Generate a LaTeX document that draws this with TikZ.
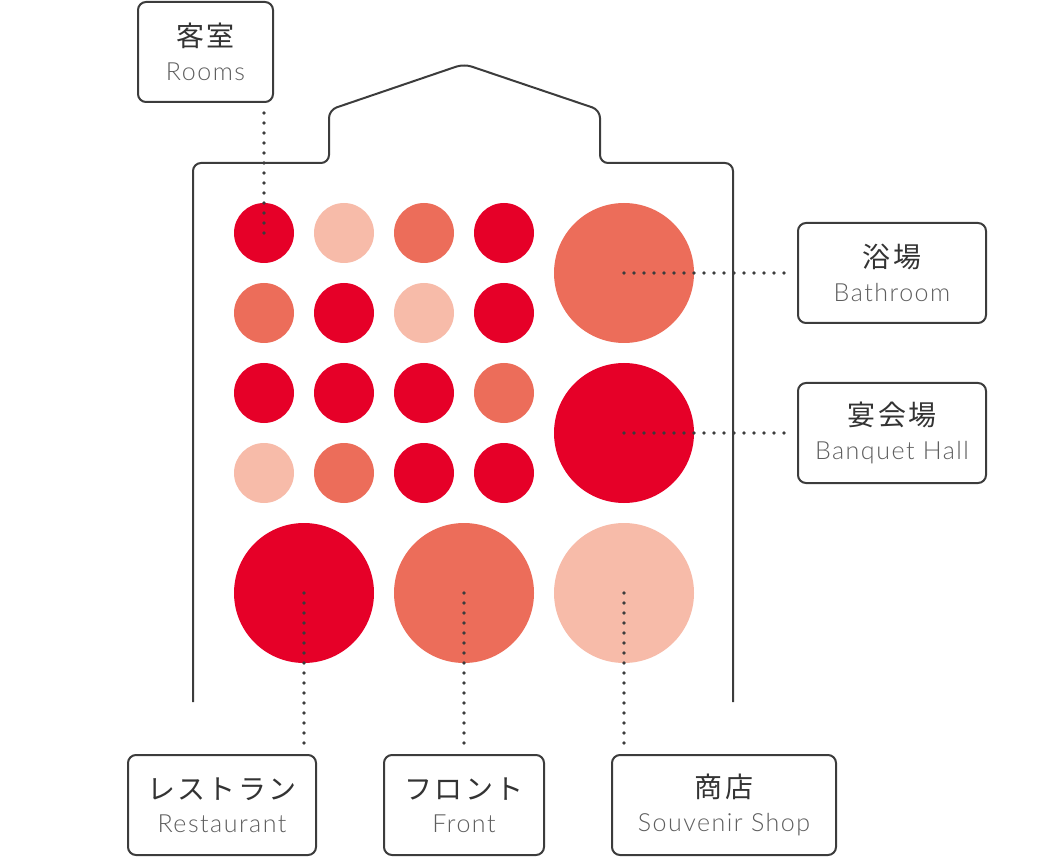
\documentclass[tikz,border=0pt]{standalone}
\usepackage{fontspec}
\setmainfont{Lato Light}[LetterSpace=6]
\newfontfamily\jpfont{Noto Sans CJK JP}[LetterSpace=8]
\usepackage{xcolor}
\definecolor{hotelred}{HTML}{E60028}
\definecolor{hotelsalmon}{HTML}{EC6D5A}
\definecolor{hotelpink}{HTML}{F7BBA9}
\definecolor{inkgray}{HTML}{3C3C3C}
\definecolor{textgray}{HTML}{333333}
\definecolor{engray}{HTML}{5E5E5E}
\newcommand{\roomlabel}[2]{{\fontsize{28}{30}\jpfont\color{textgray}#1}\\[13pt]{\fontsize{25}{30}\selectfont\color{engray}#2}}

\begin{document}
\begin{tikzpicture}[x=1pt, y=-1pt,
    small/.style={circle, inner sep=0pt, minimum size=60pt},
    large/.style={circle, inner sep=0pt, minimum size=140pt},
    tag/.style={draw=inkgray, line width=2pt, rounded corners=8pt, minimum height=100pt, align=center, inner sep=0pt},
    dotline/.style={inkgray, line width=3.6pt, line cap=round, dash pattern=on 0pt off 10pt}]
    \useasboundingbox (0,0) rectangle (1060,858);

    % Building outline
    \draw[inkgray, line width=2pt, rounded corners=8pt]
        (193,702) -- (193,163) -- (329,163) -- (329,110) -- (464,64)
        -- (600,110) -- (600,163) -- (733,163) -- (733,702);

    % Guest rooms
    \node[small, fill=hotelred]    (r11) at (264,233) {};
    \node[small, fill=hotelpink]   (r12) at (344,233) {};
    \node[small, fill=hotelsalmon] (r13) at (424,233) {};
    \node[small, fill=hotelred]    (r14) at (504,233) {};
    \node[small, fill=hotelsalmon] (r21) at (264,313) {};
    \node[small, fill=hotelred]    (r22) at (344,313) {};
    \node[small, fill=hotelpink]   (r23) at (424,313) {};
    \node[small, fill=hotelred]    (r24) at (504,313) {};
    \node[small, fill=hotelred]    (r31) at (264,393) {};
    \node[small, fill=hotelred]    (r32) at (344,393) {};
    \node[small, fill=hotelred]    (r33) at (424,393) {};
    \node[small, fill=hotelsalmon] (r34) at (504,393) {};
    \node[small, fill=hotelpink]   (r41) at (264,473) {};
    \node[small, fill=hotelsalmon] (r42) at (344,473) {};
    \node[small, fill=hotelred]    (r43) at (424,473) {};
    \node[small, fill=hotelred]    (r44) at (504,473) {};

    % Large facilities
    \node[large, fill=hotelsalmon] (bath)    at (624,273) {};
    \node[large, fill=hotelred]    (banquet) at (624,433) {};
    \node[large, fill=hotelred]    (resto)   at (304,593) {};
    \node[large, fill=hotelsalmon] (front)   at (464,593) {};
    \node[large, fill=hotelpink]   (shop)    at (624,593) {};

    % Labels
    \node[tag, minimum width=135pt] (roomstag)   at (205.5,52) {\roomlabel{客室}{Rooms}};
    \node[tag, minimum width=188pt] (bathtag)    at (892,273)  {\roomlabel{浴場}{Bathroom}};
    \node[tag, minimum width=188pt] (banquettag) at (892,433)  {\roomlabel{宴会場}{Banquet Hall}};
    \node[tag, minimum width=188pt] (restotag)   at (222,805)  {\roomlabel{レストラン}{Restaurant}};
    \node[tag, minimum width=160pt] (fronttag)   at (464,805)  {\roomlabel{フロント}{Front}};
    \node[tag, minimum width=224pt] (shoptag)    at (724,805)  {\roomlabel{商店}{Souvenir Shop}};

    % Leader lines
    \draw[dotline, shorten <=10pt, shorten >=-3pt] (roomstag.south -| r11) -- (r11.center);
    \draw[dotline, shorten >=11pt] (bath.center) -- (bathtag.west);
    \draw[dotline, shorten >=11pt] (banquet.center) -- (banquettag.west);
    \draw[dotline, shorten >=10pt] (resto.center) -- (restotag.north -| resto);
    \draw[dotline, shorten >=10pt] (front.center) -- (fronttag.north);
    \draw[dotline, shorten >=10pt] (shop.center) -- (shoptag.north -| shop);
\end{tikzpicture}
\end{document}
